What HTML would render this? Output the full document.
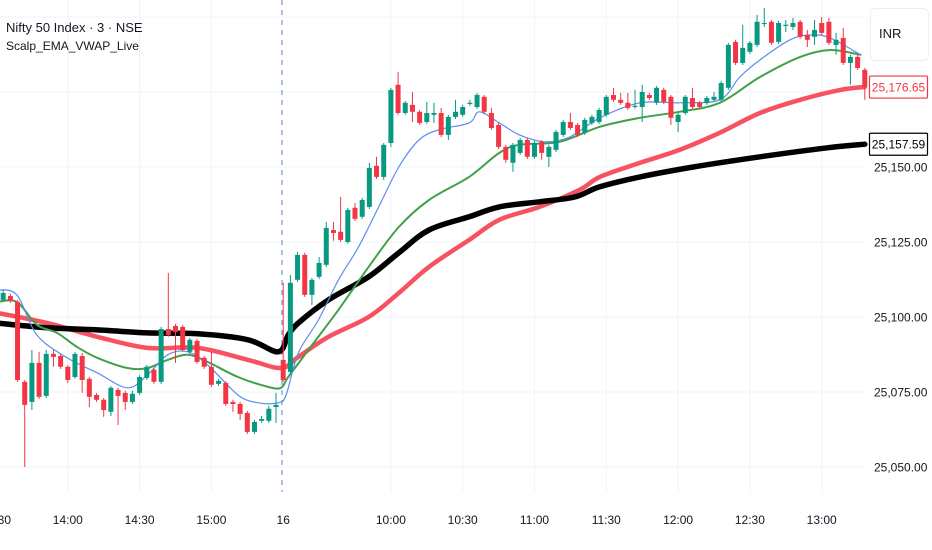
<!DOCTYPE html>
<html><head><meta charset="utf-8"><style>
html,body{margin:0;padding:0;background:#fff;width:932px;height:550px;overflow:hidden;font-family:"Liberation Sans",sans-serif}
svg{display:block}
</style></head><body>
<svg id="chart" width="932" height="550" xmlns="http://www.w3.org/2000/svg">
<g id="grid"></g>
<line x1="282" y1="0" x2="282" y2="492" stroke="#5b7fd6" stroke-width="1" stroke-dasharray="5,5"/>
<g id="lines"></g>
<g id="candles"></g>
<g id="yaxis"></g>
<g id="xaxis"></g>
<text x="6" y="32" font-size="13" fill="#131722">Nifty 50 Index · 3 · NSE</text>
<text x="6" y="50" font-size="12" fill="#131722">Scalp_EMA_VWAP_Live</text>
<rect x="870.5" y="8.5" width="58" height="52" rx="5" fill="#fff" stroke="#eceef2"/>
<text x="879" y="38" font-size="13" fill="#131722">INR</text>
<g id="tags"></g>
</svg>
<script>
const categories=[];for(let i=0;i<122;i++)categories.push(i);
const opens=[25108.4,25105.7,25107.0,25105.0,25078.4,25071.7,25084.7,25073.7,25087.7,25087.0,25083.4,25080.0,25087.0,25079.4,25074.0,25072.4,25068.4,25075.7,25074.7,25071.7,25074.7,25079.7,25082.4,25078.4,25096.0,25097.0,25096.7,25088.4,25092.0,25086.4,25083.4,25077.7,25078.0,25071.7,25071.0,25068.0,25061.7,25065.4,25065.4,25070.0,
25085.7,25081.7,25112.4,25120.7,25107.4,25113.4,25117.4,25129.0,25128.4,25125.0,25136.4,25133.4,25136.7,25150.4,25146.7,25158.0,25177.4,25168.0,25170.7,25168.4,25165.0,25167.4,25168.0,25160.7,25166.7,25167.4,25171.0,25170.0,25173.4,25168.0,25164.0,25156.7,25151.4,25154.7,25159.0,25153.4,25158.4,25153.4,25155.7,25160.7,25165.0,25164.0,25161.4,25164.7,25165.0,25167.4,25174.0,25172.4,25171.4,25170.0,25170.0,25174.0,25171.4,25175.7,25173.4,25165.0,25168.0,25173.0,25171.4,25171.4,25172.4,25172.4,25176.4,25191.7,25184.7,25188.4,25190.7,25197.7,25198.4,25191.7,25197.0,25196.7,25198.4,25194.0,25193.4,25198.0,25198.4,25190.7,25193.0,25184.7,25186.7,25182.4];
const highs=[25110.0,25109.0,25107.7,25105.7,25079.0,25089.0,25088.4,25089.0,25089.0,25087.7,25084.0,25088.4,25088.0,25080.0,25074.7,25073.0,25077.0,25076.4,25075.4,25075.4,25080.7,25084.0,25083.0,25096.7,25114.7,25097.7,25097.4,25093.0,25092.7,25087.0,25088.4,25079.4,25078.7,25072.4,25071.7,25068.7,25065.7,25067.0,25070.4,25074.7,
25111.4,25114.0,25121.7,25121.4,25113.0,25120.0,25131.7,25131.7,25140.0,25136.4,25138.0,25139.7,25151.4,25153.4,25158.0,25176.4,25181.7,25172.0,25175.0,25169.0,25171.7,25171.4,25169.7,25167.4,25172.4,25170.7,25172.4,25174.7,25174.0,25169.7,25164.7,25157.4,25158.0,25159.7,25159.7,25158.7,25159.0,25157.4,25162.4,25165.7,25168.0,25164.7,25166.4,25167.4,25169.7,25174.0,25176.4,25174.7,25174.7,25175.7,25177.4,25174.7,25177.0,25176.4,25174.0,25168.0,25174.0,25176.4,25172.0,25173.7,25175.0,25178.7,25191.4,25192.4,25197.4,25192.0,25200.7,25203.0,25199.0,25198.7,25199.0,25199.7,25199.0,25195.7,25199.0,25200.0,25199.7,25194.7,25196.4,25187.4,25187.4,25183.0];
const lows=[25105.7,25105.0,25104.7,25078.4,25050.0,25069.0,25072.7,25073.0,25083.4,25082.7,25078.0,25079.4,25074.7,25070.0,25071.7,25066.7,25067.0,25064.0,25069.0,25071.0,25074.0,25079.0,25077.7,25077.7,25093.4,25084.7,25088.4,25087.7,25084.4,25082.7,25076.7,25077.0,25070.4,25068.4,25065.7,25061.0,25061.0,25064.7,25064.7,25064.7,
25078.4,25081.0,25111.7,25106.7,25104.0,25112.7,25116.7,25125.4,25125.0,25124.4,25132.0,25132.7,25136.0,25146.0,25145.7,25156.7,25167.4,25167.4,25165.0,25164.0,25164.4,25164.7,25160.0,25159.0,25166.0,25166.7,25170.4,25169.4,25167.7,25162.4,25156.0,25151.4,25148.4,25154.0,25152.7,25152.7,25152.4,25150.0,25155.0,25160.0,25162.4,25160.0,25160.7,25164.0,25164.4,25166.7,25171.7,25170.7,25169.0,25169.4,25165.0,25172.4,25170.7,25171.0,25164.0,25161.7,25167.4,25169.4,25169.4,25170.7,25171.7,25171.7,25175.7,25184.0,25184.0,25187.7,25190.0,25196.7,25190.7,25191.0,25195.0,25195.7,25192.7,25190.0,25190.7,25194.0,25190.7,25187.4,25184.0,25177.4,25182.4,25172.4];
const closes=[25106.4,25108.0,25105.4,25079.0,25070.7,25084.7,25073.4,25087.7,25086.7,25083.4,25079.0,25087.7,25079.0,25073.4,25072.4,25069.0,25076.4,25073.7,25071.7,25074.4,25080.0,25083.4,25078.4,25096.0,25094.0,25095.0,25089.0,25092.4,25085.0,25083.4,25077.4,25078.7,25071.0,25071.0,25067.7,25061.7,25065.0,25066.0,25069.4,25070.7,
25079.0,25111.4,25120.7,25107.4,25112.4,25118.0,25129.7,25128.0,25125.7,25135.7,25132.7,25139.0,25149.7,25146.7,25157.4,25175.7,25168.0,25171.4,25168.4,25164.7,25168.0,25168.0,25160.7,25166.7,25168.4,25170.0,25171.4,25174.0,25168.4,25163.0,25156.7,25152.4,25157.4,25159.0,25153.4,25158.0,25154.7,25156.7,25161.7,25165.0,25163.0,25160.7,25165.7,25166.7,25169.0,25173.4,25172.4,25171.4,25169.7,25170.4,25175.0,25173.0,25176.4,25171.7,25166.4,25167.4,25173.4,25170.0,25170.0,25173.0,25173.4,25178.0,25190.7,25184.7,25189.7,25191.4,25198.4,25198.0,25191.4,25198.0,25197.4,25198.0,25193.4,25192.4,25195.7,25194.7,25191.4,25192.4,25184.7,25186.7,25183.0,25176.65];
const vwapIdx=[0.1,7.1,14.1,21.1,28.1,35.1,39.3,40.7,42.1,46.3,51.9,56.1,60.3,65.9,70.1,75.7,80.6,84.1,89.7,97.1,106.4,115.8,121];
const vwapVal=[25098.0,25096.4,25095.7,25094.7,25094.4,25092.4,25088.4,25094.0,25098.0,25105.7,25113.4,25121.4,25129.0,25133.4,25136.7,25138.4,25140.0,25143.4,25146.7,25150.0,25153.4,25156.4,25157.59];
const slowIdx=[0.1,7.1,14.1,21.1,28.1,35.1,39.7,42.1,46.3,51.9,56.1,60.3,65.9,70.1,75.7,81.3,84.1,89.7,95.2,100.8,106.4,112,117.6,121];
const slowVal=[25101.4,25098.0,25093.4,25089.7,25089.7,25085.7,25083.0,25086.7,25093.4,25100.0,25108.0,25116.7,25125.7,25132.4,25136.7,25142.4,25146.7,25151.4,25155.7,25161.4,25168.0,25172.4,25175.7,25176.65];
const midIdx=[0.1,2.9,5.7,8.5,11.3,14.1,18.3,21.1,23.9,26.7,29.5,33.7,37.9,39.7,40.7,43.5,47.7,51.9,56.1,60.3,65.9,70.1,72.9,78.5,84.1,89.7,95.2,100.8,106.4,112,116.2,120.4];
const midVal=[25105.0,25105.0,25097.4,25094.7,25090.0,25086.4,25083.0,25083.0,25085.7,25087.4,25085.0,25080.0,25076.7,25076.4,25080.0,25089.0,25102.4,25116.7,25130.0,25139.0,25146.7,25154.7,25157.4,25158.4,25163.4,25166.4,25168.4,25171.4,25180.0,25186.7,25189.0,25187.4];
const fastIdx=[0.1,2.9,5.7,9.9,14.1,18.3,21.1,23.9,26.7,29.5,33.7,36.5,39.3,40.4,42.1,44.9,47.7,50.5,53.3,56.1,58.9,61.7,65.9,67.3,70.1,72.9,76.4,79.9,84.1,89.7,95.2,100.8,103.6,106.4,110.6,113.4,116.2,120.4];
const fastVal=[25109.0,25107.4,25094.0,25086.4,25081.4,25076.4,25080.7,25087.4,25088.4,25084.0,25074.0,25071.4,25071.4,25074.0,25088.0,25099.0,25112.4,25123.4,25136.7,25150.0,25159.0,25162.4,25164.7,25168.4,25164.7,25160.7,25158.4,25160.0,25166.4,25171.4,25171.4,25172.4,25180.0,25185.7,25192.4,25194.0,25193.0,25187.4];
const priceTicks=[25200,25175,25150,25125,25100,25075,25050];
const priceTickLabels=["","","25,150.00","25,125.00","25,100.00","25,075.00","25,050.00"];
const timeTickIdx=[0,10,20,30,40,55,65,75,85,95,105,115];
const timeTickLabels=["13:30","14:00","14:30","15:00","16","10:00","10:30","11:00","11:30","12:00","12:30","13:00"];
const lastClose=25176.65, lastVwap=25157.59;

const NS="http://www.w3.org/2000/svg";
const PLOT_R=866, PLOT_B=492;
function xs(i){return -4+7.18*i;}
function ys(p){return 167+(25150-p)*3;}
function mk(tag,attrs,parent){const e=document.createElementNS(NS,tag);for(const k in attrs)e.setAttribute(k,attrs[k]);parent.appendChild(e);return e;}
const grid=document.getElementById('grid'),linesG=document.getElementById('lines'),candG=document.getElementById('candles'),yax=document.getElementById('yaxis'),xax=document.getElementById('xaxis'),tags=document.getElementById('tags');
priceTicks.forEach((p,k)=>{
  const l=mk('line',{x1:0,x2:PLOT_R,y1:ys(p),y2:ys(p),stroke:'#f0f3fa','stroke-width':1},grid);
  
  
  if(priceTickLabels[k]){const t=mk('text',{x:874,y:ys(p)+4.5,'font-size':12,fill:'#131722'},yax);t.textContent=priceTickLabels[k];
  
  }
});
timeTickIdx.forEach((ix,k)=>{
  const x=xs(ix);
  if(timeTickLabels[k]!=="16"){const l=mk('line',{x1:x,x2:x,y1:0,y2:PLOT_B,stroke:'#f0f3fa','stroke-width':1},grid);
  
  }
  const t=mk('text',{x:x,y:524,'font-size':12,fill:'#131722','text-anchor':'middle'},xax);t.textContent=timeTickLabels[k];
  
  
});
function smooth(idx,val){
  const P=idx.map((v,k)=>[xs(v),ys(val[k])]);let d='M'+P[0][0].toFixed(1)+','+P[0][1].toFixed(1);
  for(let k=0;k<P.length-1;k++){const p0=P[k-1]||P[k],p1=P[k],p2=P[k+1],p3=P[k+2]||P[k+1];
    const c1=[p1[0]+(p2[0]-p0[0])/6,p1[1]+(p2[1]-p0[1])/6],c2=[p2[0]-(p3[0]-p1[0])/6,p2[1]-(p3[1]-p1[1])/6];
    d+=' C'+c1[0].toFixed(1)+','+c1[1].toFixed(1)+' '+c2[0].toFixed(1)+','+c2[1].toFixed(1)+' '+p2[0].toFixed(1)+','+p2[1].toFixed(1);}
  return d;}
const series=[[slowIdx,slowVal,'#f7525f',4.5,'ema-slow-line'],[vwapIdx,vwapVal,'#000',5.5,'vwap-line'],[midIdx,midVal,'#43a047',2,'ema-mid-line'],[fastIdx,fastVal,'#5b8def',1.2,'ema-fast-line']];
series.forEach(s=>{const p=mk('path',{d:smooth(s[0],s[1]),fill:'none',stroke:s[2],'stroke-width':s[3],'stroke-linejoin':'round','stroke-linecap':'round'},linesG);
  
  });
categories.forEach(i=>{
  const o=opens[i],h=highs[i],l=lows[i],c=closes[i],up=c>=o,col=up?'#089981':'#f23645',x=xs(i);
  const g=mk('g',{},candG);
  
  
  mk('line',{x1:x,x2:x,y1:ys(h),y2:ys(l),stroke:col,'stroke-width':1},g);
  const top=ys(Math.max(o,c)),bh=Math.max(1,ys(Math.min(o,c))-top);
  mk('rect',{x:x-2.5,y:top,width:5,height:bh,fill:col},g);
});
mk('rect',{x:PLOT_R,y:0,width:932-PLOT_R,height:PLOT_B,fill:'none'},yax);
function tag(v,col,name){const y=ys(v);
  const r=mk('rect',{x:869.5,y:y-11,width:58,height:22,fill:'#fff',stroke:col,'stroke-width':1.2,rx:1},tags);
  
  
  const t=mk('text',{x:898.5,y:y+4.5,'font-size':12,fill:col,'text-anchor':'middle'},tags);
  t.textContent=v.toLocaleString('en-US',{minimumFractionDigits:2,maximumFractionDigits:2});
  
  }
tag(lastClose,'#f23645','last-price-tag');
tag(lastVwap,'#000','vwap-price-tag');
</script>
</body></html>
